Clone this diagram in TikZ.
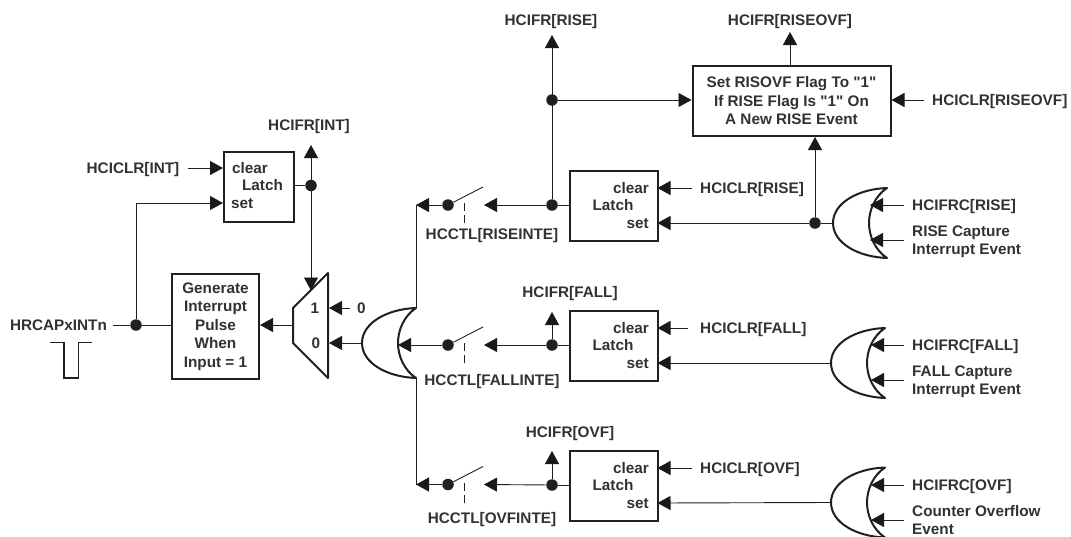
\documentclass[tikz,border=0pt]{standalone}
\usepackage{fontspec}
\setmainfont{Liberation Sans}
\newfontfamily\labfont{Liberation Sans}
\usetikzlibrary{arrows.meta}
\definecolor{ink}{HTML}{231F20}
\definecolor{txt}{HTML}{333132}
\tikzset{
  x=1pt,y=-1pt,
  wire/.style={draw=ink,line width=0.9pt},
  arr/.style={wire,-{Triangle[length=13pt,width=14pt,color=black!90]},shorten >=0pt},
  thick box/.style={draw=ink,line width=2pt,fill=white,inner sep=0pt,anchor=north west,align=center,font=\labfont\bfseries\fontsize{15.3}{18.5}\selectfont,text=txt},
  lbl/.style={inner sep=0pt,text=txt,text height=11pt,text depth=0pt,font=\labfont\bfseries\fontsize{15.3}{18}\selectfont},
  lbll/.style={inner sep=0pt,text=txt,font=\labfont\bfseries\fontsize{15.3}{18}\selectfont,anchor=west,align=left},
  dotn/.style={circle,fill=ink,draw=none,inner sep=0pt,minimum size=11.5pt},
  gate/.style={draw=ink,line width=2pt,fill=white,line join=round},
  swl/.style={wire},
  ctl/.style={draw=ink,line width=0.8pt,dash pattern=on 8pt off 4pt on 8pt off 1pt},
}
% OR gate: apex x, centre y
\newcommand{\orgate}[3]{%
  \coordinate (#1a) at (#2,#3);
  \coordinate (#1b) at (#2+36,#3);
  \draw[gate] (#2+54,#3-35) .. controls (#2+25,#3-34) and (#2,#3-20) .. (#2,#3)
    .. controls (#2,#3+20) and (#2+25,#3+34) .. (#2+54,#3+35)
    .. controls (#2+42,#3+27) and (#2+36,#3+13) .. (#2+36,#3)
    .. controls (#2+36,#3-13) and (#2+42,#3-27) .. (#2+54,#3-35) -- cycle;}
% Latch with text at right
\newcommand{\latchR}[2]{%
  \node[thick box,minimum width=88pt,minimum height=70pt] (#1) at (569,#2) {};
  \node[lbl,anchor=east] (#1c) at (649,#2+18) {clear};
  \node[lbl] (#1l) at (613,#2+35) {Latch};
  \node[lbl,anchor=east] (#1s) at (649,#2+53) {set};
  \coordinate (#1ci) at (657.5,#2+18);
  \coordinate (#1si) at (657.5,#2+53);
  \coordinate (#1o) at (569,#2+35);}
% Switch row: y, target x
\newcommand{\switchrow}[3]{%
  \node[dotn] (#1d) at (448,#2) {};
  \coordinate (#1e) at (483,#2-18);
  \coordinate (#1f) at (484,#2);
  \coordinate (#1t) at (#3,#2);
  \coordinate (#1u) at (464.5,#2-2);
  \coordinate (#1v) at (464.5,#2+19);
  \draw[arr] (#1d) -- (#1t);
  \draw[swl] (#1d) -- (#1e);
  \draw[ctl] (#1u) -- (#1v);}
\begin{document}
\begin{tikzpicture}
\useasboundingbox (0,0) rectangle (1071,536);
% --- left part
\node[lbl] (hriname) at (58.5,325) {HRCAPxINTn};
\node[dotn] (hridot) at (136,325) {};
\coordinate (hrist) at (113,325);
\node[thick box,minimum width=87pt,minimum height=105pt] (gen) at (171,273)
  {Generate\\Interrupt\\Pulse\\When\\Input = 1};
\draw[wire] (hrist) -- (hridot) -- (gen.west |- hridot);
\draw[draw=ink,line width=1.6pt] (50,342.5) -- (64,342.5) -- (64,378) -- (78.5,378) -- (78.5,342.5) -- (92,342.5);
% INT latch
\node[thick box,minimum width=70pt,minimum height=70pt] (lint) at (223,151) {};
\node[lbl,anchor=west] (lintc) at (232,168) {clear};
\node[lbl] (lintl) at (262.5,185) {Latch};
\node[lbl,anchor=west] (lints) at (231,203) {set};
\node[lbl] (clrint) at (133,168) {HCICLR[INT]};
\coordinate (clrintst) at (188,168);
\coordinate (lintci) at (223,168);
\coordinate (lintsi) at (223,203);
\draw[arr] (clrintst) -- (lintci);
\draw[arr] (hridot) |- (lintsi);
\node[lbl] (flint) at (309,125) {HCIFR[INT]};
\node[dotn] (intdot) at (311,185.5) {};
\coordinate (inttop) at (311,145);
\draw[wire] (lint.east |- intdot) -- (intdot);
\draw[arr] (intdot) -- (inttop);
% Mux
\draw[gate] (293,308) -- (328,273) -- (328,378) -- (293,343) -- cycle;
\coordinate (muxl) at (293,325);
\coordinate (muxt) at (311,290.5);
\coordinate (mux1) at (329,308);
\coordinate (mux0) at (329,343);
\draw[arr] (intdot) -- (muxt);
\draw[arr] (muxl) -- (gen.east |- muxl);
\node[lbl] (m1) at (315,308) {1};
\node[lbl] (m0) at (316,343) {0};
\node[lbl] (zero) at (361.5,308) {0};
\coordinate (zerost) at (350,308);
\draw[arr] (zerost) -- (mux1);
% Main OR
\orgate{om}{362}{343}
\draw[arr] (oma) -- (mux0);
\coordinate (omt) at (416,308);
\coordinate (omb) at (416,378);
\coordinate (r1) at (416,205);
\coordinate (r3) at (416,484.5);
\draw[wire] (omt) -- (r1);
\draw[wire] (omb) -- (r3);
% Switches
\switchrow{sa}{205}{416}
\switchrow{sb}{345}{398}
\switchrow{sc}{484.5}{416}
\node[lbl] (ca) at (492,234) {HCCTL[RISEINTE]};
\node[lbl] (cb) at (492,380) {HCCTL[FALLINTE]};
\node[lbl] (cc) at (492,518) {HCCTL[OVFINTE]};
% Latches
\latchR{la}{170}
\latchR{lb}{310}
\latchR{lc}{450}
% Outputs of latches
\node[dotn] (da) at (552,205) {};
\node[dotn] (db) at (552,345) {};
\node[dotn] (dc) at (552,485) {};
\draw[wire] (lao) -- (da);
\draw[wire] (lbo) -- (db);
\draw[wire] (lco) -- (dc);
\draw[arr] (da) -- (saf);
\draw[arr] (db) -- (sbf);
\draw[arr] (dc) -- (scf);
\coordinate (dat) at (552,35);
\node[dotn] (db2) at (552,100) {};
\draw[arr] (da) -- (dat);
\coordinate (dbt) at (552,312);
\coordinate (dct) at (552,451);
\draw[arr] (db) -- (dbt);
\draw[arr] (dc) -- (dct);
\node[lbl] (fr) at (551,20) {HCIFR[RISE]};
\node[lbl] (fb) at (570,292) {HCIFR[FALL]};
\node[lbl] (fc) at (570,432) {HCIFR[OVF]};
% Top box
\node[thick box,minimum width=198pt,minimum height=70pt] (top) at (691.5,65)
  {Set RISOVF Flag To "1"\\If RISE Flag Is "1" On\\A New RISE Event};
\draw[arr] (db2) -- (top.west |- db2);
\coordinate (topt) at (790,32);
\draw[arr] (top.north -| topt) -- (topt);
\node[lbl] (ftop) at (790,20) {HCIFR[RISEOVF]};
\node[lbl,anchor=west] (ctop) at (932,100) {HCICLR[RISEOVF]};
\coordinate (ctopst) at (924,100);
\draw[arr] (ctopst) -- (top.east |- ctopst);
% Clear inputs
\node[lbl,anchor=west] (cra) at (700,187.5) {HCICLR[RISE]};
\node[lbl,anchor=west] (crb) at (700,327.5) {HCICLR[FALL]};
\node[lbl,anchor=west] (crc) at (700,467.5) {HCICLR[OVF]};
\coordinate (crasx) at (692,188);
\coordinate (crbsx) at (688,328);
\coordinate (crcsx) at (692,468);
\draw[arr] (crasx) -- (laci);
\draw[arr] (crbsx) -- (lbci);
\draw[arr] (crcsx) -- (lcci);
% OR gates on the right
\orgate{oa}{833}{223}
\orgate{ob}{831}{363}
\orgate{oc}{831}{502.5}
\node[dotn] (dr) at (815,223) {};
\draw[wire] (oaa) -- (dr);
\draw[arr] (dr) -- (lasi);
\draw[arr] (dr) -- (dr |- top.south);
\draw[arr] (oba) -- (lbsi);
\draw[arr] (oca) -- (lcsi);
% inputs to the right OR gates
\node[lbl,anchor=west] (ia1) at (912,205) {HCIFRC[RISE]};
\node[lbll] (ia2) at (912,241.5) {RISE Capture\\Interrupt Event};
\node[lbl,anchor=west] (ib1) at (912,345) {HCIFRC[FALL]};
\node[lbll] (ib2) at (912,381.5) {FALL Capture\\Interrupt Event};
\node[lbl,anchor=west] (ic1) at (912,485) {HCIFRC[OVF]};
\node[lbl,anchor=west] (ic2) at (912,511) {Counter Overflow};
\node[lbl,anchor=west] (ic3) at (912,528.5) {Event};
\foreach \n/\y/\tx in {a/205/870,a/240/870,b/345/871,b/380/871,c/485/871,c/520/871}{
  \coordinate (p) at (904,\y);
  \coordinate (q) at (\tx,\y);
  \draw[arr] (p) -- (q);
}
\end{tikzpicture}
\end{document}
